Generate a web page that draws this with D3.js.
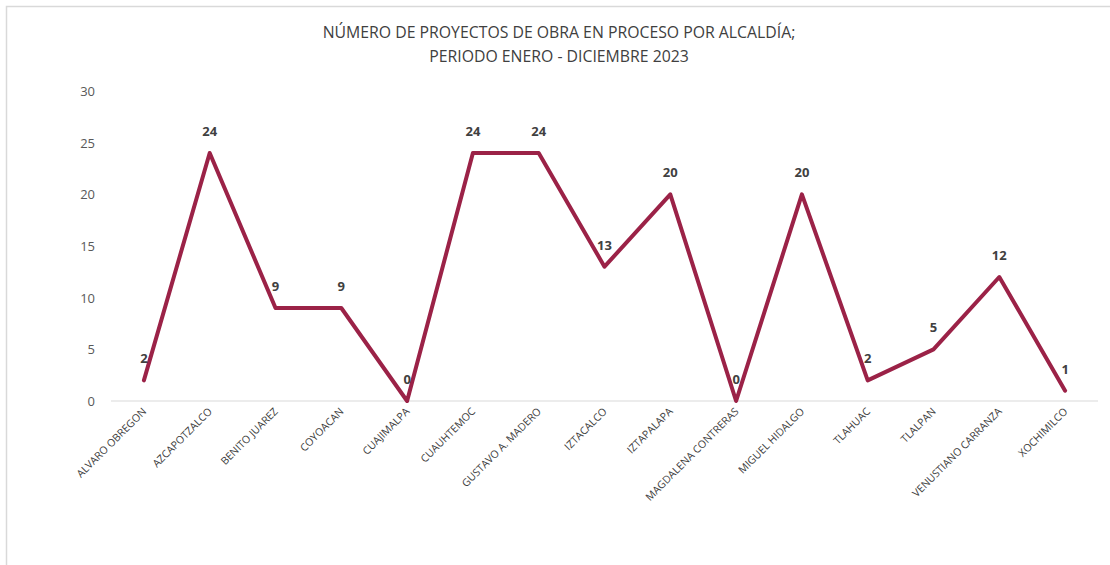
<!DOCTYPE html>
<html lang="en">
<head>
<meta charset="utf-8">
<script src="https://d3js.org/d3.v7.min.js"></script>
<style type="text/css">
body {
	margin: 0;
	background: #fff;
	font-family: "Open Sans", "Noto Sans", sans-serif;
}
.title {
	font-size: 15.8px;
	fill: #404040;
}
.ytick text {
	font-family: "Open Sans", sans-serif;
	font-size: 13px;
	fill: #595959;
}
.xtick text {
	font-family: "Open Sans", sans-serif;
	font-size: 10.5px;
	fill: #404040;
}
.label {
	font-size: 13px;
	font-weight: bold;
	fill: #404040;
}
</style>
</head>
<body>
<script type="text/javascript">

// Alcaldías and number of projects
var alcaldias = ["ALVARO OBREGON", "AZCAPOTZALCO", "BENITO JUAREZ", "COYOACAN", "CUAJIMALPA",
                 "CUAUHTEMOC", "GUSTAVO A. MADERO", "IZTACALCO", "IZTAPALAPA", "MAGDALENA CONTRERAS",
                 "MIGUEL HIDALGO", "TLAHUAC", "TLALPAN", "VENUSTIANO CARRANZA", "XOCHIMILCO"];
var proyectos = [2, 24, 9, 9, 0, 24, 24, 13, 20, 0, 20, 2, 5, 12, 1];
var yTicks = [0, 5, 10, 15, 20, 25, 30];
var titleLines = ["NÚMERO DE PROYECTOS DE OBRA EN PROCESO POR ALCALDÍA;", "PERIODO ENERO - DICIEMBRE 2023"];

var width = 1110;
var height = 565;
var margin = {left: 111, right: 12, top: 91, bottom: 164};

var svg = d3.select("body")
            .append("svg")
            .attr("width", width)
            .attr("height", height);

// chart frame
svg.append("rect")
   .attr("x", 6.5)
   .attr("y", 6.5)
   .attr("width", width + 20)
   .attr("height", height + 20)
   .style("fill", "none")
   .style("stroke", "#d9d9d9")
   .style("stroke-width", 1.5);

// title
svg.append("text")
   .attr("class", "title")
   .attr("text-anchor", "middle")
   .selectAll("tspan")
   .data(titleLines)
   .enter()
   .append("tspan")
   .attr("x", 559)
   .attr("y", function(d, i) { return 38 + i * 24; })
   .text(function(d) { return d; });

var x = d3.scaleBand()
          .domain(alcaldias)
          .range([margin.left, width - margin.right]);

var y = d3.scaleLinear()
          .domain([0, 30])
          .range([height - margin.bottom, margin.top]);

// baseline
svg.append("line")
   .attr("x1", margin.left)
   .attr("x2", width - margin.right)
   .attr("y1", y(0))
   .attr("y2", y(0))
   .style("stroke", "#d9d9d9")
   .style("stroke-width", 1);

// y axis labels
svg.append("g")
   .attr("class", "ytick")
   .attr("transform", "translate(" + (margin.left - 16) + ",0)")
   .call(d3.axisLeft(y).tickValues(yTicks).tickSize(0).tickPadding(0))
   .call(function(g) { g.select(".domain").remove(); })
   .selectAll("text")
   .attr("dy", "0.35em");

// x axis labels
svg.append("g")
   .attr("class", "xtick")
   .attr("transform", "translate(0," + y(0) + ")")
   .call(d3.axisBottom(x).tickSize(0))
   .call(function(g) { g.select(".domain").remove(); })
   .selectAll("text")
   .attr("text-anchor", "end")
   .attr("dy", 0)
   .attr("transform", "translate(1,9) rotate(-45)");

// line
var line = d3.line()
             .x(function(d, i) { return x(alcaldias[i]) + x.bandwidth() / 2; })
             .y(function(d) { return y(d); });

svg.append("path")
   .datum(proyectos)
   .attr("d", line)
   .style("fill", "none")
   .style("stroke", "#9b2247")
   .style("stroke-width", 4)
   .style("stroke-linejoin", "round")
   .style("stroke-linecap", "round");

// data labels
svg.selectAll(".label")
   .data(proyectos)
   .enter()
   .append("text")
   .attr("class", "label")
   .attr("text-anchor", "middle")
   .attr("x", function(d, i) { return x(alcaldias[i]) + x.bandwidth() / 2; })
   .attr("y", function(d) { return y(d) - 17; })
   .text(function(d) { return d; });

</script>
</body>
</html>
